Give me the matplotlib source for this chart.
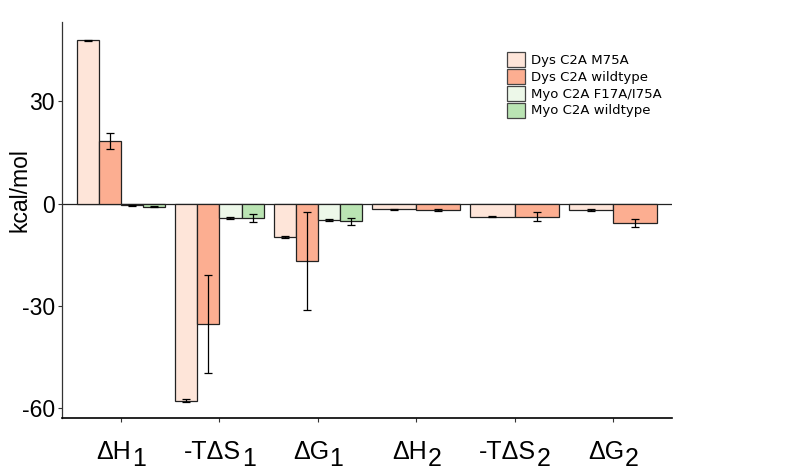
import numpy as np
import matplotlib.pyplot as plt
from matplotlib.patches import Patch

# terms on the x axis: main symbol and subscript
term_main = ["ΔH", "-TΔS", "ΔG", "ΔH", "-TΔS", "ΔG"]
term_sub = ["1", "1", "1", "2", "2", "2"]

series_names = ["Dys C2A M75A", "Dys C2A wildtype", "Myo C2A F17A/I75A", "Myo C2A wildtype"]
series_colors = ["#FEE5D9", "#FCAE91", "#EDF8E9", "#BAE4B3"]

dys_m75a = [47.8, -57.7, -9.8, -1.7, -3.8, -1.9]
dys_m75a_err = [0.2, 0.4, 0.3, 0.2, 0.2, 0.2]
dys_wt = [18.3, -35.3, -16.85, -2.0, -3.8, -5.7]
dys_wt_err = [2.3, 14.3, 14.45, 0.3, 1.2, 1.2]
myo_f17a = [-0.5, -4.2, -4.7, None, None, None]
myo_f17a_err = [0.2, 0.3, 0.3, None, None, None]
myo_wt = [-0.9, -4.2, -5.2, None, None, None]
myo_wt_err = [0.1, 1.1, 1.1, None, None, None]

values = [dys_m75a, dys_wt, myo_f17a, myo_wt]
errors = [dys_m75a_err, dys_wt_err, myo_f17a_err, myo_wt_err]

fig = plt.figure(figsize=(8, 4.73), dpi=100)
ax = fig.add_axes([62 / 800, 1 - 418.3 / 473, 610 / 800, (418.3 - 21.7) / 473])

group_width = 0.9
for g in range(len(term_main)):
    present = [s for s in range(len(values)) if values[s][g] is not None]
    w = group_width / len(present)
    for k, s in enumerate(present):
        x = g + 1 - group_width / 2 + w * (k + 0.5)
        ax.bar(x, values[s][g], width=w, color=series_colors[s],
               edgecolor="#222222", linewidth=0.9, zorder=2)
        ax.errorbar(x, values[s][g], yerr=errors[s][g], color="black",
                    linewidth=0.9, capsize=3, capthick=0.9, zorder=3)

ax.axhline(0, color="#222222", linewidth=0.9, zorder=1)

ax.set_xlim(0.4, 6.6)
ax.set_ylim(-62.9, 53.3)
ax.set_yticks([-60, -30, 0, 30])
ax.set_yticklabels(["-60", "-30", "0", "30"], fontsize=16.5,
                   family="Liberation Sans")
ax.set_xticks(np.arange(1, 7))
ax.set_xticklabels([])
ax.tick_params(axis="both", length=3, width=0.8, color="#333333")
ax.tick_params(axis="y", pad=2)

for side in ["top", "right"]:
    ax.spines[side].set_visible(False)
ax.spines["left"].set_color("#333333")
ax.spines["left"].set_linewidth(0.9)
ax.spines["bottom"].set_color("black")
ax.spines["bottom"].set_linewidth(1.2)

ax.set_ylabel("kcal/mol", fontsize=16.5, family="Liberation Sans")
ax.yaxis.set_label_coords(-0.05, 0.576)

# x labels with full-size subscripts
for g in range(len(term_main)):
    main = ax.annotate(term_main[g], xy=(g + 1, 0), xycoords=("data", "axes fraction"),
                       xytext=(-5, -29.5), textcoords="offset points",
                       ha="center", va="baseline", fontsize=18,
                       family="Liberation Sans")
    ax.annotate(term_sub[g], xy=(1, 0), xycoords=main,
                xytext=(0.5, -1.5), textcoords="offset points",
                ha="left", va="baseline", fontsize=18,
                family="Liberation Sans")

handles = [Patch(facecolor=c, edgecolor="#444444", linewidth=0.9) for c in series_colors]
fig.legend(handles, series_names, loc="upper left",
           bbox_to_anchor=(507 / 800, 1 - 52 / 473), frameon=False,
           fontsize=9.5, handlelength=1.36, handleheight=1.36,
           labelspacing=0.15, handletextpad=0.45, borderpad=0, borderaxespad=0)

fig.savefig("out.png", dpi=100)
